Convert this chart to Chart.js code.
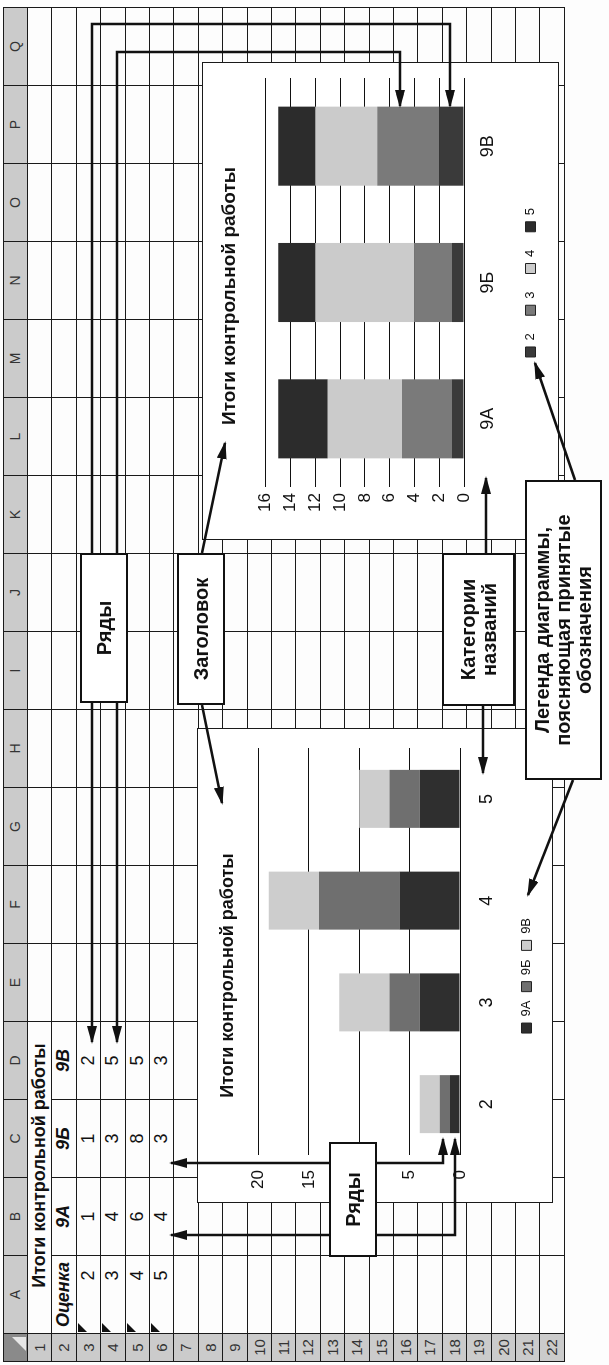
<!DOCTYPE html>
<html lang="ru">
<head>
<meta charset="UTF-8">
<title>Итоги контрольной работы</title>
<script src="https://cdn.jsdelivr.net/npm/chart.js"></script>
<style>
    html, body { margin: 0; padding: 0; background: #fdfdfd; }
    body { width: 609px; height: 1365px; overflow: hidden; position: relative;
           font-family: "Liberation Sans", Arial, sans-serif; color: #111; }
    /* вся страница повёрнута, как в учебнике */
    #sheet { position: absolute; left: 0; top: 0; width: 1365px; height: 609px;
             transform-origin: 0 0; transform: translate(0, 1365px) rotate(-90deg); }
    .cell { position: absolute; box-sizing: border-box; border-right: 1px solid #1a1a1a;
            border-bottom: 1px solid #1a1a1a; font-size: 18px; line-height: 23px;
            text-align: center; white-space: nowrap; }
    .head { background: #cbcbcb; color: #333; font-size: 14px; }
    .chart-box { position: absolute; background: #fff; border: 1px solid #1a1a1a; box-sizing: border-box; }
    .chart-box canvas { position: absolute; left: -1px; top: -1px; }
    .callout { position: absolute; box-sizing: border-box; background: #fff; border: 2px solid #111;
               font-weight: bold; font-size: 20px; line-height: 21px; text-align: center;
               display: flex; align-items: center; justify-content: center; }
    .flag { position: absolute; width: 0; height: 0; border-top: 9px solid #111; border-right: 9px solid transparent; }
    #arrows { position: absolute; left: 0; top: 0; }
</style>
</head>
<body>
<div id="sheet">
    <div id="grid"></div>

    <div class="chart-box" style="left:825px; top:202px; width:478px; height:357px;">
        <canvas id="classChart" width="478" height="357"></canvas>
    </div>
    <div class="chart-box" style="left:162px; top:197px; width:475px; height:356px;">
        <canvas id="gradeChart" width="475" height="356"></canvas>
    </div>

    <svg id="arrows" width="1365" height="609"></svg>

    <!-- выноски -->
    <div class="callout" style="left:662px; top:80px; width:150px; height:48px;">Ряды</div>
    <div class="callout" style="left:660px; top:177px; width:152px; height:48px;">Заголовок</div>
    <div class="callout" style="left:659px; top:442px; width:153px; height:73px;">Категории<br>названий</div>
    <div class="callout" style="left:585px; top:525px; width:300px; height:77px;">Легенда диаграммы,<br>поясняющая принятые<br>обозначения</div>
    <div class="callout" style="left:108px; top:329px; width:115px; height:48px;">Ряды</div>
</div>

<script>
    // данные таблицы
    const chartTitle = 'Итоги контрольной работы';
    const gradeHeader = 'Оценка';
    const grades = ['2', '3', '4', '5'];
    const classNames = ['9А', '9Б', '9В'];
    const marks9A = [1, 4, 6, 4];
    const marks9B = [1, 3, 8, 3];
    const marks9V = [2, 5, 5, 3];

    const classMarks = [marks9A, marks9B, marks9V];
    const gradeColors = ['#3a3a3a', '#7a7a7a', '#cbcbcb', '#2c2c2c'];
    const classColors = ['#2f2f2f', '#6f6f6f', '#cdcdcd'];

    // сетка листа
    const grid = document.getElementById('grid');
    const colLetters = 'ABCDEFGHIJKLMNOPQ'.split('');
    const colEdge = [3, 32];
    for (let i = 1; i <= 17; i++) colEdge.push(32 + 78 * i);
    const rowEdge = [3, 28];
    for (let i = 1; i <= 22; i++) rowEdge.push(28 + 24.4 * i);

    function addCell(r, c, text, span, css) {
        const d = document.createElement('div');
        d.className = 'cell' + (r === 0 || c === 0 ? ' head' : '');
        d.style.left = colEdge[c] + 'px';
        d.style.top = rowEdge[r] + 'px';
        d.style.width = (colEdge[c + span] - colEdge[c]) + 'px';
        d.style.height = (rowEdge[r + 1] - rowEdge[r]) + 'px';
        if (c === 0) d.style.borderLeft = '1px solid #1a1a1a';
        if (r === 0) d.style.borderTop = '1px solid #1a1a1a';
        if (text !== undefined) d.textContent = text;
        Object.assign(d.style, css || {});
        grid.appendChild(d);
        return d;
    }

    const cellText = {};
    cellText['1,1'] = { text: chartTitle, span: 4, css: { fontWeight: 'bold', paddingLeft: '24px' } };
    [gradeHeader].concat(classNames).forEach((t, i) => {
        cellText['2,' + (i + 1)] = { text: t, span: 1, css: { fontWeight: 'bold', fontStyle: 'italic' } };
    });
    grades.forEach((g, i) => {
        cellText[(i + 3) + ',1'] = { text: g, span: 1, css: { paddingLeft: '38px' } };
        classMarks.forEach((arr, k) => {
            cellText[(i + 3) + ',' + (k + 2)] = { text: String(arr[i]), span: 1 };
        });
    });

    addCell(0, 0, '', 1, { background: '#8a8a8a' });
    const corner = document.createElement('div');
    corner.style.cssText = 'position:absolute;left:14px;top:12px;width:0;height:0;border-bottom:14px solid #e6e6e6;border-left:14px solid transparent;';
    grid.appendChild(corner);
    colLetters.forEach((l, i) => addCell(0, i + 1, l, 1));
    for (let r = 1; r <= 22; r++) {
        addCell(r, 0, String(r), 1, { fontSize: '15px' });
        for (let c = 1; c <= 17; c++) {
            if (r === 1 && c > 1 && c <= 4) continue;
            const t = cellText[r + ',' + c];
            if (t) addCell(r, c, t.text, t.span, t.css);
            else addCell(r, c, '', 1);
        }
    }
    for (let r = 3; r <= 6; r++) {
        const f = document.createElement('div');
        f.className = 'flag';
        f.style.left = (colEdge[1] + 1) + 'px';
        f.style.top = (rowEdge[r] + 1) + 'px';
        grid.appendChild(f);
    }

    // стрелки выносок
    const arrowPaths = [
        [[812, 92], [1341, 92], [1341, 450], [1259, 450]],
        [[812, 117], [1313, 117], [1313, 400], [1259, 400]],
        [[662, 92], [323, 92]],
        [[662, 117], [323, 117]],
        [[202, 329], [202, 171]],
        [[130, 329], [130, 171]],
        [[202, 377], [202, 443], [226, 443]],
        [[130, 377], [130, 455], [226, 455]],
        [[812, 202], [922, 225]],
        [[660, 202], [562, 222]],
        [[812, 486], [887, 486]],
        [[659, 483], [592, 483]],
        [[885, 575], [1002, 535]],
        [[585, 573], [470, 528]]
    ];
    let svg = '<defs><marker id="ah" viewBox="0 0 18 10" refX="16" refY="5" markerWidth="18" markerHeight="10" ' +
              'markerUnits="userSpaceOnUse" orient="auto"><path d="M0,0 L18,5 L0,10 z" fill="#111"/></marker></defs>';
    arrowPaths.forEach(p => {
        svg += '<polyline points="' + p.map(q => q.join(',')).join(' ') +
               '" fill="none" stroke="#111" stroke-width="2.5" marker-end="url(#ah)"/>';
    });
    document.getElementById('arrows').innerHTML = svg;

    // диаграммы
    Chart.defaults.font.family = '"Liberation Sans", Arial, sans-serif';
    Chart.defaults.color = '#111';

    function legendItems(chart) {
        return Chart.defaults.plugins.legend.labels.generateLabels(chart)
            .map(it => Object.assign(it, { strokeStyle: '#222', lineWidth: 1 }));
    }

    function stackedOptions(o) {
        return {
            responsive: false,
            animation: false,
            devicePixelRatio: 1,
            layout: { padding: o.padding },
            plugins: {
                title: {
                    display: true, text: chartTitle, color: '#111',
                    font: { size: o.titleSize, weight: 'bold' },
                    padding: o.titlePadding
                },
                legend: {
                    position: 'bottom',
                    fullSize: o.legendFull,
                    labels: { boxWidth: 10, boxHeight: 10, padding: o.legendPadding,
                              font: { size: 13 }, color: '#111', generateLabels: legendItems }
                },
                tooltip: { enabled: false }
            },
            scales: {
                x: {
                    stacked: true,
                    grid: { display: false, drawTicks: false },
                    border: { display: false },
                    ticks: { font: { size: 18 }, padding: o.xPad, color: '#111' },
                    afterFit: a => { a.height = o.xHeight; }
                },
                y: {
                    stacked: true, min: 0, max: o.yMax,
                    grid: { color: '#111', lineWidth: 1, drawTicks: false },
                    border: { display: false },
                    ticks: { stepSize: o.yStep, font: { size: 17 }, padding: o.yPad, color: '#111' },
                    afterFit: a => { a.width = o.yWidth; }
                }
            }
        };
    }

    new Chart(document.getElementById('classChart'), {
        type: 'bar',
        data: {
            labels: classNames,
            datasets: grades.map((g, gi) => ({
                label: g,
                data: classMarks.map(arr => arr[gi]),
                backgroundColor: gradeColors[gi],
                barPercentage: 0.58,
                categoryPercentage: 1
            }))
        },
        options: stackedOptions({
            padding: { left: 26, right: 16, top: 0, bottom: 12 },
            titleSize: 19, titlePadding: { top: 16, bottom: 25 },
            legendFull: false, legendPadding: 18, xPad: 13, xHeight: 42,
            yMax: 16, yStep: 2, yPad: 6, yWidth: 27
        })
    });

    new Chart(document.getElementById('gradeChart'), {
        type: 'bar',
        data: {
            labels: grades,
            datasets: classNames.map((n, ci) => ({
                label: n,
                data: classMarks[ci],
                backgroundColor: classColors[ci],
                barPercentage: 0.57,
                categoryPercentage: 1
            }))
        },
        options: stackedOptions({
            padding: { left: 0, right: 20, top: 0, bottom: 10 },
            titleSize: 18, titlePadding: { top: 20, bottom: 20 },
            legendFull: true, legendPadding: 9, xPad: 16, xHeight: 51,
            yMax: 20, yStep: 5, yPad: 15, yWidth: 48
        })
    });
</script>
</body>
</html>
